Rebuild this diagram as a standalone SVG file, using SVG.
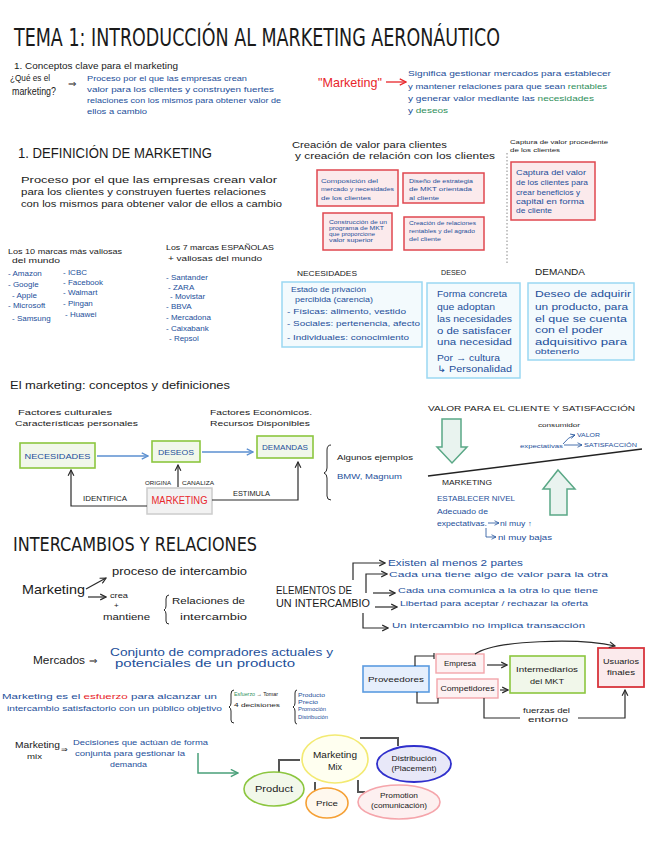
<svg xmlns="http://www.w3.org/2000/svg" width="656" height="848" viewBox="0 0 656 848">
<defs>
<style>
text{font-family:"Liberation Sans","DejaVu Sans",sans-serif;fill:#1a1a1a}
.b{fill:#1d4f9a}
.g{fill:#2f8f5b}
.r{fill:#e8262b}
.k{fill:#1a1a1a}
.ttl{font-family:"Liberation Sans Narrow","DejaVu Sans Condensed","Liberation Sans",sans-serif}
.m{text-anchor:middle}
.pk{fill:#fbeaec;stroke:#e0474f;stroke-width:1.5}
.lb{fill:#f3fafd;stroke:#9ad8f2;stroke-width:1.5}
.gn{fill:#f1f7ea;stroke:#8cc63f;stroke-width:1.6}
.ln{fill:none;stroke:#2a2a2a;stroke-width:1.2}
.bl{fill:none;stroke:#5b8fd0;stroke-width:1.3}
.gr{fill:none;stroke:#555;stroke-width:2}
.ga{fill:#e9f3ef;stroke:#5aa886;stroke-width:1.5}
</style>
<marker id="ah" viewBox="0 0 10 10" refX="9" refY="5" markerWidth="6" markerHeight="6" orient="auto"><path d="M1,1 L9,5 L1,9" fill="none" stroke="#2a2a2a" stroke-width="1.6"/></marker>
<marker id="ahb" viewBox="0 0 10 10" refX="9" refY="5" markerWidth="6" markerHeight="6" orient="auto"><path d="M1,1 L9,5 L1,9" fill="none" stroke="#5b8fd0" stroke-width="1.6"/></marker>
<marker id="ahr" viewBox="0 0 10 10" refX="9" refY="5" markerWidth="6" markerHeight="6" orient="auto"><path d="M1,1 L9,5 L1,9" fill="none" stroke="#e8262b" stroke-width="1.6"/></marker>
<marker id="ahg" viewBox="0 0 10 10" refX="9" refY="5" markerWidth="6" markerHeight="6" orient="auto"><path d="M1,1 L9,5 L1,9" fill="none" stroke="#4aa07a" stroke-width="1.6"/></marker>
<marker id="ahu" viewBox="0 0 10 10" refX="9" refY="5" markerWidth="7" markerHeight="7" orient="auto"><path d="M1,1 L9,5 L1,9" fill="none" stroke="#1d4f9a" stroke-width="1.4"/></marker>
</defs>
<rect width="656" height="848" fill="#ffffff"/>

<g id="title">
<text x="14" y="46" font-size="25" class="ttl" textLength="486" lengthAdjust="spacingAndGlyphs">TEMA 1: INTRODUCCIÓN AL MARKETING AERONÁUTICO</text>
</g>

<g id="conceptos">
<text x="14" y="69" font-size="9" textLength="164" lengthAdjust="spacingAndGlyphs">1. Conceptos clave para el marketing</text>
<text x="10" y="81" font-size="9" textLength="40" lengthAdjust="spacingAndGlyphs">¿Qué es el</text>
<text x="12" y="95" font-size="10" textLength="44" lengthAdjust="spacingAndGlyphs">marketing?</text>
<text x="68" y="87" font-size="10">⇒</text>
<text x="87" y="81" font-size="7.5" class="b" textLength="160" lengthAdjust="spacingAndGlyphs">Proceso por el que las empresas crean</text>
<text x="87" y="92" font-size="7.5" class="b" textLength="187" lengthAdjust="spacingAndGlyphs">valor para los clientes y construyen fuertes</text>
<text x="87" y="103" font-size="7.5" class="b" textLength="194" lengthAdjust="spacingAndGlyphs">relaciones con los mismos para obtener valor de</text>
<text x="87" y="114" font-size="7.5" class="b" textLength="60" lengthAdjust="spacingAndGlyphs">ellos a cambio</text>
</g>

<g id="significado">
<text x="318" y="87" font-size="13" class="r" textLength="64" lengthAdjust="spacingAndGlyphs">"Marketing"</text>
<text x="408" y="76" font-size="7.5" class="b" textLength="203" lengthAdjust="spacingAndGlyphs">Significa gestionar mercados para establecer</text>
<text x="408" y="89" font-size="7.5" class="b" textLength="199" lengthAdjust="spacingAndGlyphs">y mantener relaciones para que sean <tspan class="g">rentables</tspan></text>
<text x="408" y="101" font-size="7.5" class="b" textLength="186" lengthAdjust="spacingAndGlyphs">y generar valor mediante las <tspan class="g">necesidades</tspan></text>
<text x="408" y="113" font-size="7.5" class="b" textLength="40" lengthAdjust="spacingAndGlyphs">y <tspan class="g">deseos</tspan></text>
</g>

<g id="definicion">
<text x="18" y="158" font-size="14" textLength="194" lengthAdjust="spacingAndGlyphs">1. DEFINICIÓN DE MARKETING</text>
<text x="21" y="183" font-size="9" textLength="256" lengthAdjust="spacingAndGlyphs">Proceso por el que las empresas crean valor</text>
<text x="21" y="195" font-size="9" textLength="245" lengthAdjust="spacingAndGlyphs">para los clientes y construyen fuertes relaciones</text>
<text x="21" y="207" font-size="9" textLength="261" lengthAdjust="spacingAndGlyphs">con los mismos para obtener valor de ellos a cambio</text>
</g>

<g id="creacion">
<text x="292" y="148" font-size="9" textLength="155" lengthAdjust="spacingAndGlyphs">Creación de valor para clientes</text>
<text x="295" y="159" font-size="9" textLength="200" lengthAdjust="spacingAndGlyphs">y creación de relación con los clientes</text>
<line x1="507" y1="153" x2="507" y2="264" stroke="#888" stroke-width="1" stroke-dasharray="1.5 2"/>
<text x="510" y="144" font-size="6" textLength="98" lengthAdjust="spacingAndGlyphs">Captura de valor procedente</text>
<text x="510" y="152" font-size="6" textLength="50" lengthAdjust="spacingAndGlyphs">de los clientes</text>
</g>

<g id="box-composicion">
<rect x="317" y="170" width="81" height="36" class="pk"/>
<text x="321" y="183" font-size="6" class="b" textLength="57" lengthAdjust="spacingAndGlyphs">Composición del</text>
<text x="321" y="191" font-size="6" class="b" textLength="73" lengthAdjust="spacingAndGlyphs">mercado y necesidades</text>
<text x="321" y="200" font-size="6" class="b" textLength="50" lengthAdjust="spacingAndGlyphs">de los clientes</text>
</g>
<g id="box-diseno">
<rect x="403" y="173" width="81" height="30" class="pk"/>
<text x="409" y="183" font-size="6" class="b" textLength="64" lengthAdjust="spacingAndGlyphs">Diseño de estrategia</text>
<text x="409" y="191" font-size="6" class="b" textLength="63" lengthAdjust="spacingAndGlyphs">de MKT orientada</text>
<text x="409" y="200" font-size="6" class="b" textLength="30" lengthAdjust="spacingAndGlyphs">al cliente</text>
</g>
<g id="box-construccion">
<rect x="323" y="213" width="69" height="37" class="pk"/>
<text x="329" y="224" font-size="5.5" class="b" textLength="58" lengthAdjust="spacingAndGlyphs">Construcción de un</text>
<text x="329" y="230" font-size="5.5" class="b" textLength="55" lengthAdjust="spacingAndGlyphs">programa de MKT</text>
<text x="329" y="236" font-size="5.5" class="b" textLength="46" lengthAdjust="spacingAndGlyphs">que proporcione</text>
<text x="329" y="242" font-size="5.5" class="b" textLength="44" lengthAdjust="spacingAndGlyphs">valor superior</text>
</g>
<g id="box-relaciones">
<rect x="404" y="217" width="80" height="33" class="pk"/>
<text x="409" y="225" font-size="5.5" class="b" textLength="67" lengthAdjust="spacingAndGlyphs">Creación de relaciones</text>
<text x="409" y="233" font-size="5.5" class="b" textLength="66" lengthAdjust="spacingAndGlyphs">rentables y del agrado</text>
<text x="409" y="241" font-size="5.5" class="b" textLength="32" lengthAdjust="spacingAndGlyphs">del cliente</text>
</g>
<g id="box-captura">
<rect x="511" y="162" width="84" height="58" class="pk"/>
<text x="516" y="175" font-size="8" class="b" textLength="70" lengthAdjust="spacingAndGlyphs">Captura del valor</text>
<text x="516" y="185" font-size="8" class="b" textLength="72" lengthAdjust="spacingAndGlyphs">de los clientes para</text>
<text x="516" y="195" font-size="8" class="b" textLength="64" lengthAdjust="spacingAndGlyphs">crear beneficios y</text>
<text x="516" y="204" font-size="8" class="b" textLength="68" lengthAdjust="spacingAndGlyphs">capital en forma</text>
<text x="516" y="213" font-size="8" class="b" textLength="36" lengthAdjust="spacingAndGlyphs">de cliente</text>
</g>

<g id="marcas">
<text x="8" y="254" font-size="7.5" textLength="114" lengthAdjust="spacingAndGlyphs">Los 10 marcas más valiosas</text>
<text x="12" y="263" font-size="7.5" textLength="48" lengthAdjust="spacingAndGlyphs">del mundo</text>
<g class="b" font-size="8">
<text x="8" y="276" class="b">- Amazon</text>
<text x="8" y="287" class="b">- Google</text>
<text x="12" y="298" class="b">- Apple</text>
<text x="8" y="308" class="b">- Microsoft</text>
<text x="12" y="321" class="b">- Samsung</text>
<text x="63" y="275" class="b">- ICBC</text>
<text x="63" y="285" class="b">- Facebook</text>
<text x="63" y="295" class="b">- Walmart</text>
<text x="63" y="306" class="b">- Pingan</text>
<text x="65" y="317" class="b">- Huawei</text>
</g>
<text x="166" y="250" font-size="7.5" textLength="108" lengthAdjust="spacingAndGlyphs">Los 7 marcas ESPAÑOLAS</text>
<text x="168" y="261" font-size="7.5" textLength="94" lengthAdjust="spacingAndGlyphs">+ valiosas del mundo</text>
<g font-size="8">
<text x="166" y="280" class="b">- Santander</text>
<text x="168" y="290" class="b">- ZARA</text>
<text x="170" y="299" class="b">- Movistar</text>
<text x="166" y="309" class="b">- BBVA</text>
<text x="166" y="320" class="b">- Mercadona</text>
<text x="166" y="331" class="b">- Caixabank</text>
<text x="169" y="341" class="b">- Repsol</text>
</g>
</g>

<g id="necesidades">
<text x="297" y="276" font-size="8" textLength="60" lengthAdjust="spacingAndGlyphs">NECESIDADES</text>
<rect x="282" y="282" width="140" height="65" class="lb"/>
<text x="291" y="292" font-size="8" class="b" textLength="75" lengthAdjust="spacingAndGlyphs">Estado de privación</text>
<text x="295" y="302" font-size="8" class="b" textLength="78" lengthAdjust="spacingAndGlyphs">percibida (carencia)</text>
<text x="287" y="314" font-size="8" class="b" textLength="119" lengthAdjust="spacingAndGlyphs">- Físicas: alimento, vestido</text>
<text x="287" y="326" font-size="8" class="b" textLength="133" lengthAdjust="spacingAndGlyphs">- Sociales: pertenencia, afecto</text>
<text x="287" y="340" font-size="8" class="b" textLength="122" lengthAdjust="spacingAndGlyphs">- Individuales: conocimiento</text>
</g>
<g id="deseo">
<text x="441" y="275" font-size="8" textLength="25" lengthAdjust="spacingAndGlyphs">DESEO</text>
<rect x="427" y="283" width="93" height="95" class="lb"/>
<text x="437" y="297" font-size="9" class="b" textLength="70" lengthAdjust="spacingAndGlyphs">Forma concreta</text>
<text x="437" y="310" font-size="9" class="b" textLength="58" lengthAdjust="spacingAndGlyphs">que adoptan</text>
<text x="437" y="322" font-size="9" class="b" textLength="75" lengthAdjust="spacingAndGlyphs">las necesidades</text>
<text x="437" y="334" font-size="9" class="b" textLength="74" lengthAdjust="spacingAndGlyphs">o de satisfacer</text>
<text x="437" y="345" font-size="9" class="b" textLength="75" lengthAdjust="spacingAndGlyphs">una necesidad</text>
<text x="437" y="361" font-size="9" class="b" textLength="63" lengthAdjust="spacingAndGlyphs">Por → cultura</text>
<text x="437" y="372" font-size="9" class="b" textLength="75" lengthAdjust="spacingAndGlyphs">↳ Personalidad</text>
</g>
<g id="demanda">
<text x="535" y="275" font-size="9" textLength="50" lengthAdjust="spacingAndGlyphs">DEMANDA</text>
<rect x="528" y="283" width="106" height="77" class="lb"/>
<text x="535" y="297" font-size="9" class="b" textLength="96" lengthAdjust="spacingAndGlyphs">Deseo de adquirir</text>
<text x="535" y="310" font-size="9" class="b" textLength="93" lengthAdjust="spacingAndGlyphs">un producto, para</text>
<text x="535" y="322" font-size="9" class="b" textLength="92" lengthAdjust="spacingAndGlyphs">el que se cuenta</text>
<text x="535" y="333" font-size="9" class="b" textLength="68" lengthAdjust="spacingAndGlyphs">con el poder</text>
<text x="535" y="345" font-size="9" class="b" textLength="92" lengthAdjust="spacingAndGlyphs">adquisitivo para</text>
<text x="535" y="354" font-size="8" class="b" textLength="44" lengthAdjust="spacingAndGlyphs">obtenerlo</text>
</g>

<g id="conceptos-definiciones">
<text x="10" y="389" font-size="10" textLength="220" lengthAdjust="spacingAndGlyphs">El marketing: conceptos y definiciones</text>
<text x="18" y="415" font-size="8" textLength="94" lengthAdjust="spacingAndGlyphs">Factores culturales</text>
<text x="15" y="426" font-size="8" textLength="123" lengthAdjust="spacingAndGlyphs">Características personales</text>
<text x="210" y="415" font-size="8" textLength="102" lengthAdjust="spacingAndGlyphs">Factores Económicos.</text>
<text x="210" y="426" font-size="8" textLength="100" lengthAdjust="spacingAndGlyphs">Recursos Disponibles</text>
<text x="145" y="485" font-size="5" textLength="26" lengthAdjust="spacingAndGlyphs">ORIGINA</text>
<text x="182" y="485" font-size="5" textLength="32" lengthAdjust="spacingAndGlyphs">CANALIZA</text>
<text x="83" y="501" font-size="7" textLength="44" lengthAdjust="spacingAndGlyphs">IDENTIFICA</text>
<text x="233" y="496" font-size="7" textLength="37" lengthAdjust="spacingAndGlyphs">ESTIMULA</text>
<path d="M331,445 q-4,0 -4,5 v18 q0,4 -3,5 q3,1 3,5 v18 q0,4 4,4" fill="none" stroke="#2a2a2a" stroke-width="1"/>
<text x="337" y="460" font-size="8" textLength="76" lengthAdjust="spacingAndGlyphs">Algunos ejemplos</text>
<text x="337" y="479" font-size="8" class="b" textLength="65" lengthAdjust="spacingAndGlyphs">BMW, Magnum</text>
</g>
<g id="n-necesidades">
<rect x="20" y="443" width="75" height="25" class="gn"/>
<text x="57.5" y="459" font-size="8" class="b m" textLength="66" lengthAdjust="spacingAndGlyphs">NECESIDADES</text>
</g>
<g id="n-deseos">
<rect x="152" y="441" width="48" height="21" class="gn"/>
<text x="176" y="455" font-size="8" class="b m" textLength="36" lengthAdjust="spacingAndGlyphs">DESEOS</text>
</g>
<g id="n-demandas">
<rect x="257" y="436" width="56" height="22" class="gn"/>
<text x="285" y="450" font-size="8" class="b m" textLength="46" lengthAdjust="spacingAndGlyphs">DEMANDAS</text>
</g>
<g id="n-marketing">
<rect x="147" y="488" width="65" height="26" fill="#f2f2f2" stroke="#cccccc" stroke-width="1.5"/>
<text x="179.5" y="504" font-size="10" class="r m" textLength="56" lengthAdjust="spacingAndGlyphs">MARKETING</text>
</g>

<g id="valor-cliente">
<text x="428" y="411" font-size="8" textLength="207" lengthAdjust="spacingAndGlyphs">VALOR PARA EL CLIENTE Y SATISFACCIÓN</text>
<polygon points="442,419 461,419 461,447 467,447 452,463 437,447 442,447" class="ga"/>
<text x="538" y="427" font-size="6" textLength="42" lengthAdjust="spacingAndGlyphs">consumidor</text>
<text x="520" y="448" font-size="6" class="b" textLength="43" lengthAdjust="spacingAndGlyphs">expectativas</text>
<text x="577" y="437" font-size="6" class="b" textLength="23" lengthAdjust="spacingAndGlyphs">VALOR</text>
<text x="584" y="447" font-size="6" class="b" textLength="53" lengthAdjust="spacingAndGlyphs">SATISFACCIÓN</text>
<line x1="428" y1="476" x2="642" y2="449" stroke="#222" stroke-width="1.5"/>
<text x="442" y="485" font-size="7" textLength="50" lengthAdjust="spacingAndGlyphs">MARKETING</text>
<polygon points="558,470 575,489 567,489 567,515 550,515 550,489 543,489" class="ga"/>
<text x="437" y="501" font-size="7" class="b" textLength="78" lengthAdjust="spacingAndGlyphs">ESTABLECER NIVEL</text>
<text x="437" y="514" font-size="7" class="b" textLength="51" lengthAdjust="spacingAndGlyphs">Adecuado de</text>
<text x="437" y="526" font-size="7" class="b" textLength="50" lengthAdjust="spacingAndGlyphs">expectativas.</text>
<text x="500" y="526" font-size="7" class="b" textLength="32" lengthAdjust="spacingAndGlyphs">ni muy ↑</text>
<text x="498" y="540" font-size="7" class="b" textLength="54" lengthAdjust="spacingAndGlyphs">ni muy bajas</text>
</g>

<g id="intercambios">
<text x="13" y="551" font-size="20" class="ttl" textLength="244" lengthAdjust="spacingAndGlyphs">INTERCAMBIOS Y RELACIONES</text>
<text x="22" y="594" font-size="13" textLength="63" lengthAdjust="spacingAndGlyphs">Marketing</text>
<text x="112" y="575" font-size="10" textLength="135" lengthAdjust="spacingAndGlyphs">proceso de intercambio</text>
<text x="110" y="598" font-size="7" textLength="18" lengthAdjust="spacingAndGlyphs">crea</text>
<text x="114" y="608" font-size="8">+</text>
<text x="103" y="620" font-size="9" textLength="47" lengthAdjust="spacingAndGlyphs">mantiene</text>
<path d="M169,595 q-3,0 -3,4 v7 q0,3 -2,4 q2,1 2,4 v7 q0,3 3,3" fill="none" stroke="#2a2a2a" stroke-width="1"/>
<text x="172" y="604" font-size="9" textLength="73" lengthAdjust="spacingAndGlyphs">Relaciones de</text>
<text x="180" y="620" font-size="9" textLength="67" lengthAdjust="spacingAndGlyphs">intercambio</text>
</g>

<g id="elementos">
<text x="276" y="594" font-size="10" textLength="76" lengthAdjust="spacingAndGlyphs">ELEMENTOS DE</text>
<text x="276" y="607" font-size="10" textLength="94" lengthAdjust="spacingAndGlyphs">UN INTERCAMBIO</text>
<text x="388" y="566" font-size="9" class="b" textLength="135" lengthAdjust="spacingAndGlyphs">Existen al menos 2 partes</text>
<text x="389" y="577" font-size="8" class="b" textLength="219" lengthAdjust="spacingAndGlyphs">Cada una tiene algo de valor para la otra</text>
<text x="398" y="593" font-size="8" class="b" textLength="200" lengthAdjust="spacingAndGlyphs">Cada una comunica a la otra lo que tiene</text>
<text x="400" y="606" font-size="8" class="b" textLength="188" lengthAdjust="spacingAndGlyphs">Libertad para aceptar / rechazar la oferta</text>
<text x="392" y="628" font-size="8" class="b" textLength="193" lengthAdjust="spacingAndGlyphs">Un intercambio no implica transacción</text>
</g>

<g id="mercados">
<text x="33" y="664" font-size="11" textLength="52" lengthAdjust="spacingAndGlyphs">Mercados</text>
<text x="89" y="664" font-size="10">⇒</text>
<text x="110" y="656" font-size="11" class="b" textLength="223" lengthAdjust="spacingAndGlyphs">Conjunto de compradores actuales y</text>
<text x="115" y="667" font-size="11" class="b" textLength="180" lengthAdjust="spacingAndGlyphs">potenciales de un producto</text>
<text x="2" y="699" font-size="7.5" class="b" textLength="215" lengthAdjust="spacingAndGlyphs">Marketing es el <tspan class="r">esfuerzo</tspan> para alcanzar un</text>
<text x="7" y="711" font-size="7.5" class="b" textLength="215" lengthAdjust="spacingAndGlyphs">intercambio satisfactorio con un público objetivo</text>
<path d="M234,690 q-3,0 -3,4 v9 q0,3 -2,4 q2,1 2,4 v9 q0,3 3,3" fill="none" stroke="#2a2a2a" stroke-width="1"/>
<text x="234" y="696" font-size="5.5" class="g" textLength="44" lengthAdjust="spacingAndGlyphs">Esfuerzo <tspan class="k">→ Tomar</tspan></text>
<text x="234" y="707" font-size="6" textLength="46" lengthAdjust="spacingAndGlyphs">4 decisiones</text>
<path d="M297,690 q-2,0 -2,3 v10 q0,3 -2,4 q2,1 2,4 v10 q0,3 2,3" fill="none" stroke="#2a2a2a" stroke-width="1"/>
<text x="298" y="697" font-size="5" class="b" textLength="27" lengthAdjust="spacingAndGlyphs">Producto</text>
<text x="298" y="704" font-size="5" class="b" textLength="20" lengthAdjust="spacingAndGlyphs">Precio</text>
<text x="298" y="711" font-size="5" class="b" textLength="28" lengthAdjust="spacingAndGlyphs">Promoción</text>
<text x="298" y="719" font-size="5" class="b" textLength="30" lengthAdjust="spacingAndGlyphs">Distribución</text>
</g>

<g id="n-proveedores">
<rect x="363" y="666" width="66" height="26" fill="#e6effc" stroke="#5b9be0" stroke-width="1.6"/>
<text x="396" y="682" font-size="8" class="m" textLength="56" lengthAdjust="spacingAndGlyphs">Proveedores</text>
</g>
<g id="n-empresa">
<rect x="436" y="654" width="48" height="19" fill="#fdf1f2" stroke="#f2a5ab" stroke-width="1.4"/>
<text x="460" y="666" font-size="8" class="m" textLength="32" lengthAdjust="spacingAndGlyphs">Empresa</text>
</g>
<g id="n-competidores">
<rect x="437" y="679" width="61" height="19" fill="#fdf1f2" stroke="#f2a5ab" stroke-width="1.4"/>
<text x="467.5" y="691" font-size="7.5" class="m" textLength="54" lengthAdjust="spacingAndGlyphs">Competidores</text>
</g>
<g id="n-intermediarios">
<rect x="510" y="656" width="75" height="37" class="gn"/>
<text x="547" y="672" font-size="8" class="m" textLength="62" lengthAdjust="spacingAndGlyphs">Intermediarios</text>
<text x="547" y="684" font-size="8" class="m" textLength="34" lengthAdjust="spacingAndGlyphs">del MKT</text>
</g>
<g id="n-usuarios">
<rect x="598" y="648" width="46" height="39" fill="#fbeaec" stroke="#d8343c" stroke-width="1.8"/>
<text x="621" y="664" font-size="8" class="m" textLength="36" lengthAdjust="spacingAndGlyphs">Usuarios</text>
<text x="621" y="675" font-size="8" class="m" textLength="28" lengthAdjust="spacingAndGlyphs">finales</text>
</g>
<g id="fuerzas">
<text x="523" y="713" font-size="7" textLength="47" lengthAdjust="spacingAndGlyphs">fuerzas del</text>
<text x="528" y="722" font-size="7" textLength="40" lengthAdjust="spacingAndGlyphs">entorno</text>
</g>

<g id="mix-texto">
<text x="15" y="748" font-size="9" textLength="45" lengthAdjust="spacingAndGlyphs">Marketing</text>
<text x="27" y="759" font-size="8" textLength="15" lengthAdjust="spacingAndGlyphs">mix</text>
<text x="61" y="752" font-size="8">⇒</text>
<text x="73" y="745" font-size="7" class="b" textLength="135" lengthAdjust="spacingAndGlyphs">Decisiones que actúan de forma</text>
<text x="75" y="756" font-size="7" class="b" textLength="110" lengthAdjust="spacingAndGlyphs">conjunta para gestionar la</text>
<text x="110" y="767" font-size="7" class="b" textLength="37" lengthAdjust="spacingAndGlyphs">demanda</text>
</g>

<g id="connectors">
<line x1="386" y1="82" x2="406" y2="82" stroke="#e8262b" stroke-width="1.3" marker-end="url(#ahr)"/>
<path d="M97,456 H148" class="bl" marker-end="url(#ahb)"/>
<path d="M202,452 H253" class="bl" marker-end="url(#ahb)"/>
<path d="M178,487 V465" class="ln" marker-end="url(#ah)"/>
<path d="M147,506 H71 V470" class="ln" marker-end="url(#ah)"/>
<path d="M212,500 H298 V462" class="ln" marker-end="url(#ah)"/>
<path d="M563,444 Q568,437 575,435" fill="none" stroke="#1d4f9a" stroke-width="0.8" marker-end="url(#ahu)"/>
<path d="M564,445 H582" fill="none" stroke="#1d4f9a" stroke-width="0.8" marker-end="url(#ahu)"/>
<path d="M488,523 H499" fill="none" stroke="#1d4f9a" stroke-width="0.8" marker-end="url(#ahu)"/>
<path d="M486,528 V537 H496" fill="none" stroke="#1d4f9a" stroke-width="0.8" marker-end="url(#ahu)"/>
<path d="M86,589 L106,578" class="ln" marker-end="url(#ah)"/>
<path d="M88,597 H106" class="ln" marker-end="url(#ah)"/>
<path d="M353,580 V563 H385" class="ln" marker-end="url(#ah)"/>
<path d="M366,593 V574 H387" class="ln" marker-end="url(#ah)"/>
<path d="M373,593 H395" class="ln" marker-end="url(#ah)"/>
<path d="M375,607 H397" class="ln" marker-end="url(#ah)"/>
<path d="M363,613 V628 H388" class="ln" marker-end="url(#ah)"/>
<path d="M415,666 V656 H434 M434,653 V659" class="ln"/>
<path d="M417,692 V703 H438 V698" class="ln"/>
<path d="M487,665 H507" class="ln" marker-end="url(#ah)"/>
<path d="M500,690 H508" class="ln" marker-end="url(#ah)"/>
<path d="M475,654 C495,640 580,638 615,646" class="ln" marker-end="url(#ah)"/>
<path d="M484,698 V718 H520" class="ln"/>
<path d="M578,718 H625 V690" class="ln" marker-end="url(#ah)"/>
<path d="M198,753 V773 H238" fill="none" stroke="#4aa07a" stroke-width="1.5" marker-end="url(#ahg)"/>
<path d="M279,772 V760 H300" class="gr"/>
<path d="M360,738 H398 V746" class="gr"/>
<path d="M315,782 V795" class="gr"/>
<path d="M358,780 V792 H365" class="gr"/>
</g>

<g id="n-mix">
<ellipse cx="335" cy="759" rx="33" ry="24" fill="#fffff0" stroke="#f3ea72" stroke-width="1.6"/>
<text x="335" y="758" font-size="9" class="m" textLength="44" lengthAdjust="spacingAndGlyphs">Marketing</text>
<text x="335" y="770" font-size="9" class="m">Mix</text>
</g>
<g id="n-product">
<ellipse cx="274" cy="789" rx="30" ry="17" fill="#f2f8ea" stroke="#8cc63f" stroke-width="1.6"/>
<text x="274" y="792" font-size="9" class="m" textLength="38" lengthAdjust="spacingAndGlyphs">Product</text>
</g>
<g id="n-price">
<ellipse cx="327" cy="803" rx="21" ry="15" fill="#fff8ee" stroke="#f5a035" stroke-width="1.6"/>
<text x="327" y="806" font-size="8" class="m" textLength="22" lengthAdjust="spacingAndGlyphs">Price</text>
</g>
<g id="n-distribucion">
<ellipse cx="414" cy="764" rx="37" ry="18" fill="#e8e8f8" stroke="#2f2fcc" stroke-width="1.8"/>
<text x="414" y="761" font-size="7.5" class="m" textLength="45" lengthAdjust="spacingAndGlyphs">Distribución</text>
<text x="414" y="771" font-size="7.5" class="m" textLength="45" lengthAdjust="spacingAndGlyphs">(Placement)</text>
</g>
<g id="n-promotion">
<ellipse cx="399" cy="802" rx="41" ry="17" fill="#fdf0f0" stroke="#f5a5ab" stroke-width="1.6"/>
<text x="399" y="798" font-size="7" class="m" textLength="38" lengthAdjust="spacingAndGlyphs">Promotion</text>
<text x="399" y="808" font-size="7" class="m" textLength="56" lengthAdjust="spacingAndGlyphs">(comunicación)</text>
</g>
</svg>
